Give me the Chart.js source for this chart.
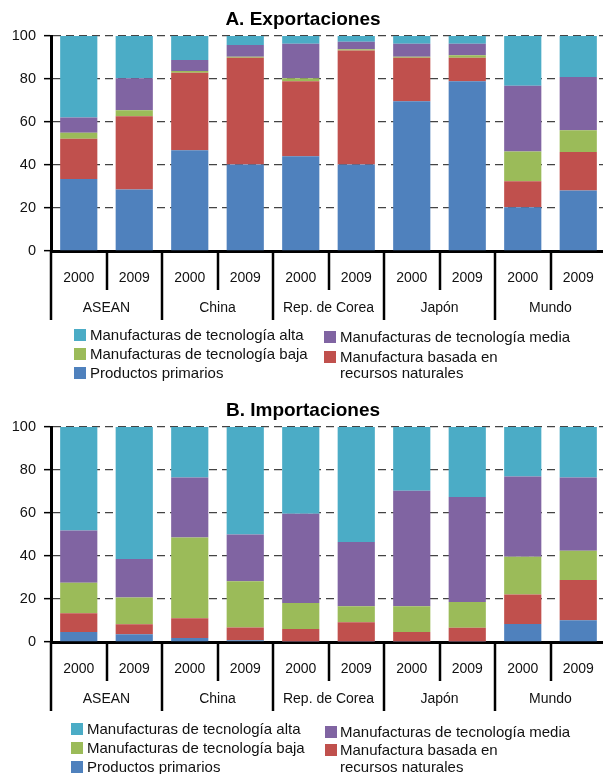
<!DOCTYPE html>
<html>
<head>
<meta charset="utf-8">
<script src="https://cdn.jsdelivr.net/npm/chart.js@4/dist/chart.umd.min.js"></script>
<style>
  html, body { margin: 0; padding: 0; background: #fff; overflow: hidden; }
  #page { position: relative; width: 603px; height: 774px; overflow: hidden; font-family: "Liberation Sans", Arial, sans-serif; }
  .panel { position: absolute; left: 0; width: 607px; height: 390px; }
  .leg { position: absolute; font-size: 15px; line-height: 18px; color: #111; white-space: nowrap; }
  .sq { position: absolute; width: 12px; height: 12px; }
</style>
</head>
<body>
<div id="page">
  <div class="panel" style="top:0"><canvas id="chartA" width="607" height="390"></canvas></div>
  <div class="panel" style="top:391px"><canvas id="chartB" width="607" height="390"></canvas></div>
  <div id="legends"></div>
</div>
<script>
// categories
const countries = ['ASEAN', 'China', 'Rep. de Corea', 'Japón', 'Mundo'];
const years = ['2000', '2009'];
const yTicks = [0, 20, 40, 60, 80, 100];

// A. Exportaciones (% of total)
const expPrimarios = [33.5, 28.6, 46.9, 40.2, 44.1, 40.2, 69.6, 78.9, 20.4, 28.1];
const expRecursos  = [18.7, 34.1, 36.0, 49.7, 34.9, 53.0, 20.3, 11.0, 12.1, 18.0];
const expBaja      = [2.8, 2.8, 0.8, 0.5, 1.4, 0.6, 0.5, 1.1, 13.8, 10.1];
const expMedia     = [7.1, 14.8, 5.1, 5.4, 16.0, 3.5, 6.0, 5.4, 30.6, 24.7];
const expAlta      = [37.9, 19.7, 11.2, 4.2, 3.6, 2.7, 3.6, 3.6, 23.1, 19.1];

// B. Importaciones
const impPrimarios = [4.7, 3.6, 1.9, 0.8, 0.2, 0.2, 0.2, 0.2, 8.4, 10.1];
const impRecursos  = [8.7, 4.7, 9.2, 5.9, 5.8, 9.0, 4.5, 6.4, 13.7, 18.7];
const impBaja      = [14.2, 12.4, 37.5, 21.5, 12.1, 7.4, 11.9, 12.0, 17.5, 13.6];
const impMedia     = [24.3, 17.9, 27.9, 21.8, 41.5, 29.9, 53.7, 48.9, 37.4, 34.1];
const impAlta      = [48.1, 61.4, 23.5, 50.0, 40.4, 53.5, 29.7, 32.5, 23.0, 23.5];

const seriesNames = {
  alta: 'Manufacturas de tecnología alta',
  baja: 'Manufacturas de tecnología baja',
  primarios: 'Productos primarios',
  media: 'Manufacturas de tecnología media',
  recursos: ['Manufactura basada en', 'recursos naturales']
};
const colors = {
  primarios: '#4F81BD',
  recursos: '#C0504D',
  baja: '#9BBB59',
  media: '#8064A2',
  alta: '#4BACC6'
};

Chart.defaults.font.family = '"Liberation Sans", Arial, sans-serif';
Chart.defaults.color = '#111';

const labels = [];
countries.forEach(c => years.forEach(y => labels.push(y)));

// two level x axis: years, then countries, split by vertical lines
const groupAxis = {
  id: 'groupAxis',
  afterDraw(chart) {
    const ctx = chart.ctx;
    const x = chart.scales.x;
    const base = x.top;
    const n = labels.length;
    const step = (x.right - x.left) / n;
    ctx.save();
    ctx.strokeStyle = '#000';
    ctx.lineWidth = 2.5;
    for (let i = 0; i <= n; i++) {
      const px = Math.round(x.left + i * step);
      ctx.beginPath();
      ctx.moveTo(px, base);
      ctx.lineTo(px, base + (i % 2 === 0 ? 69 : 39));
      ctx.stroke();
    }
    ctx.fillStyle = '#111';
    ctx.textAlign = 'center';
    ctx.textBaseline = 'middle';
    ctx.font = '14px "Liberation Sans", Arial, sans-serif';
    labels.forEach((lab, i) => {
      ctx.fillText(lab, x.getPixelForValue(i), base + 27);
    });
    countries.forEach((c, k) => {
      const cx = (x.getPixelForValue(2 * k) + x.getPixelForValue(2 * k + 1)) / 2;
      ctx.fillText(c, cx, base + 57);
    });
    ctx.restore();
  }
};

function makeChart(id, title, prim, rec, baja, media, alta) {
  const ds = (key, data) => ({
    label: Array.isArray(seriesNames[key]) ? seriesNames[key].join(' ') : seriesNames[key],
    data: data,
    backgroundColor: colors[key],
    borderWidth: 0,
    barPercentage: 0.67,
    categoryPercentage: 1
  });
  return new Chart(document.getElementById(id), {
    type: 'bar',
    data: {
      labels: labels,
      datasets: [
        ds('primarios', prim),
        ds('recursos', rec),
        ds('baja', baja),
        ds('media', media),
        ds('alta', alta)
      ]
    },
    options: {
      responsive: false,
      animation: false,
      layout: { padding: { top: 0, left: 0, right: 1, bottom: 0 } },
      plugins: {
        legend: { display: false },
        tooltip: { enabled: false },
        title: {
          display: true,
          text: title,
          color: '#000',
          font: { size: 19, weight: 'bold' },
          padding: { top: 8.6, bottom: 4.6 }
        }
      },
      scales: {
        x: {
          stacked: true,
          ticks: { display: false },
          grid: { display: false },
          border: { color: '#000', width: 3 },
          afterFit(s) { s.height = 139; }
        },
        y: {
          stacked: true,
          min: 0,
          max: 100,
          afterBuildTicks(s) { s.ticks = yTicks.map(v => ({ value: v })); },
          ticks: { color: '#111', font: { size: 14.5 }, padding: 8 },
          grid: { color: '#444', lineWidth: 1.3, tickColor: '#000', tickLength: 7, tickWidth: 1.5 },
          border: { color: '#000', width: 3, dash: [8, 5] },
          afterFit(s) { s.width = 51; }
        }
      }
    },
    plugins: [groupAxis]
  });
}

makeChart('chartA', 'A. Exportaciones', expPrimarios, expRecursos, expBaja, expMedia, expAlta);
makeChart('chartB', 'B. Importaciones', impPrimarios, impRecursos, impBaja, impMedia, impAlta);

// legends below each panel
function addLegend(sqLeft, textLeft, rows, rightSq, rightText) {
  const box = document.getElementById('legends');
  function item(key, sqX, txX, cy, text, withSquare) {
    if (withSquare) {
      const s = document.createElement('div');
      s.className = 'sq';
      s.style.left = sqX + 'px';
      s.style.top = (cy - 6) + 'px';
      s.style.background = colors[key];
      box.appendChild(s);
    }
    const t = document.createElement('div');
    t.className = 'leg';
    t.style.left = txX + 'px';
    t.style.top = (cy - 9) + 'px';
    t.textContent = text;
    box.appendChild(t);
  }
  item('alta', sqLeft, textLeft, rows[0], seriesNames.alta, true);
  item('baja', sqLeft, textLeft, rows[1], seriesNames.baja, true);
  item('primarios', sqLeft, textLeft, rows[2], seriesNames.primarios, true);
  item('media', rightSq, rightText, rows[3], seriesNames.media, true);
  item('recursos', rightSq, rightText, rows[4], seriesNames.recursos[0], true);
  item('recursos', rightSq, rightText, rows[5], seriesNames.recursos[1], false);
}
addLegend(74, 90, [334.5, 353.5, 372.5, 337, 356.5, 372.5], 324, 340);
addLegend(71, 87, [729, 747.5, 766.5, 731.5, 750, 767], 325, 340);
</script>
</body>
</html>
